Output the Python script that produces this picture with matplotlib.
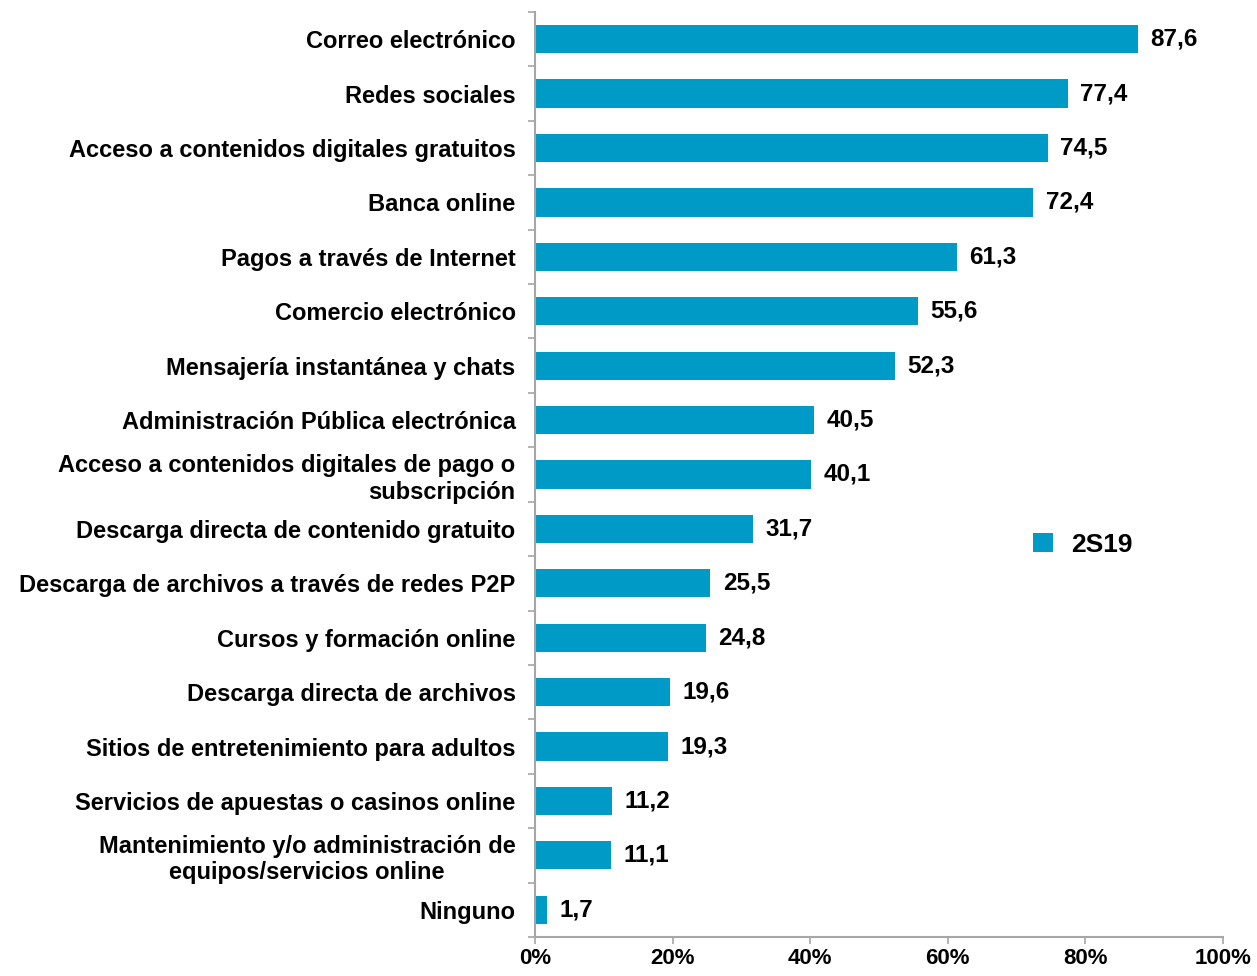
import matplotlib
matplotlib.use("Agg")
import matplotlib.pyplot as plt
from matplotlib.patches import Patch
from matplotlib.ticker import MultipleLocator, FuncFormatter

plt.rcParams['font.family'] = ['Liberation Sans', 'DejaVu Sans']
plt.rcParams['font.weight'] = 'bold'

categories = [
    "Correo electrónico",
    "Redes sociales",
    "Acceso a contenidos digitales gratuitos",
    "Banca online",
    "Pagos a través de Internet",
    "Comercio electrónico",
    "Mensajería instantánea y chats",
    "Administración Pública electrónica",
    "Acceso a contenidos digitales de pago o\nsubscripción",
    "Descarga directa de contenido gratuito",
    "Descarga de archivos a través de redes P2P",
    "Cursos y formación online",
    "Descarga directa de archivos",
    "Sitios de entretenimiento para adultos",
    "Servicios de apuestas o casinos online",
    "Mantenimiento y/o administración de\nequipos/servicios online",
    "Ninguno",
]
values = [87.6, 77.4, 74.5, 72.4, 61.3, 55.6, 52.3, 40.5, 40.1, 31.7, 25.5, 24.8, 19.6, 19.3, 11.2, 11.1, 1.7]
series_name = "2S19"
bar_color = "#009AC7"
axis_color = "#A6A6A6"

fig = plt.figure(figsize=(12.57, 9.76), dpi=100)
ax = fig.add_axes([0.4256, 0.040, 0.5474, 0.9477])

y = list(range(len(categories)))
ax.barh(y, values, height=0.52, color=bar_color)
ax.set_ylim(len(categories) - 0.5, -0.5)
ax.set_xlim(0, 100)

for yi, v in zip(y, values):
    ax.annotate(f"{v:.1f}".replace(".", ","), xy=(v, yi), xytext=(9, 0),
                textcoords="offset points", ha="left", va="center",
                fontsize=17.5, fontweight="bold")

ax.set_yticks(y)
ax.set_yticklabels(categories, fontsize=17, fontweight="bold", multialignment="center")
ax.get_yticklabels()[8].set_multialignment("right")
ax.tick_params(axis="y", length=0, pad=14)
ax.set_yticks([i - 0.5 for i in range(len(categories) + 1)], minor=True)
ax.tick_params(axis="y", which="minor", length=5, width=1.2, color=axis_color, direction="out")

ax.xaxis.set_major_locator(MultipleLocator(20))
ax.xaxis.set_major_formatter(FuncFormatter(lambda x, p: f"{int(round(x))}%"))
ax.tick_params(axis="x", length=5, width=1.2, color=axis_color, labelsize=16, pad=3)
for lab in ax.get_xticklabels():
    lab.set_fontweight("bold")

for s in ["top", "right"]:
    ax.spines[s].set_visible(False)
for s in ["left", "bottom"]:
    ax.spines[s].set_color(axis_color)
    ax.spines[s].set_linewidth(1.5)

leg = ax.legend(handles=[Patch(facecolor=bar_color, label=series_name)],
                loc="center left", bbox_to_anchor=(0.724, 0.424), frameon=False,
                borderpad=0, borderaxespad=0,
                prop={"size": 19, "weight": "bold"}, handlelength=0.75, handleheight=0.7,
                handletextpad=0.7)

fig.savefig("out.png", dpi=100)
